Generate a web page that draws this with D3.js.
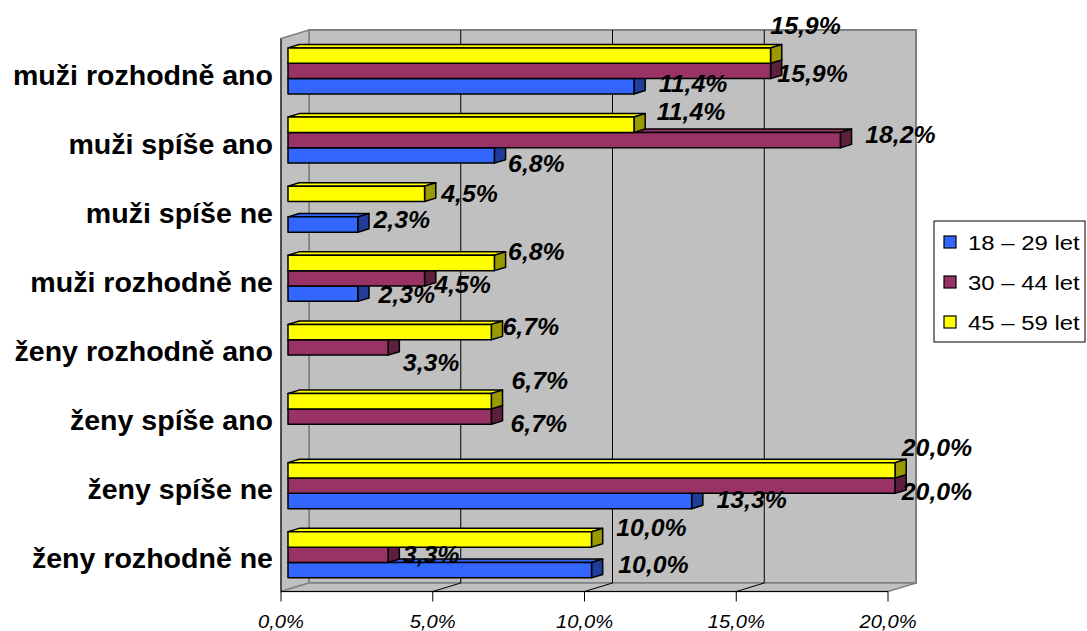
<!doctype html>
<html>
<head>
<meta charset="utf-8">
<style>
  body { margin: 0; background: #fff; }
  text { font-family: Arial, "Liberation Sans", sans-serif; }
</style>
<script src="https://d3js.org/d3.v7.min.js"></script>
</head>
<body>
<svg width="1087" height="631"></svg>
<script>
// categories top to bottom
var categories = ["muži rozhodně ano", "muži spíše ano", "muži spíše ne", "muži rozhodně ne",
                  "ženy rozhodně ano", "ženy spíše ano", "ženy spíše ne", "ženy rozhodně ne"];
var seriesNames = ["18 – 29 let", "30 – 44 let", "45 – 59 let"];
var young  = [11.4, 6.8, 2.3, 2.3, null, null, 13.3, 10.0];
var middle = [15.9, 18.2, null, 4.5, 3.3, 6.7, 20.0, 3.3];
var older  = [15.9, 11.4, 4.5, 6.8, 6.7, 6.7, 20.0, 10.0];
var xTicks = [0, 5, 10, 15, 20];

// label nudges [dx from bar end, dy from bar middle] - excel moves these around
var youngNudge  = [[59,-2.5],[42,8],[44,-5],[49,1.5],null,null,[60,-1],[62,-5.5]];
var middleNudge = [[42,3],[60,-5],null,[38,6],[43,15],[47.5,7.5],[42,6],[43,0]];
var olderNudge  = [[35,-30],[57,-12.7],[45,-0.5],[42,-11],[39.5,-5.5],[48.5,-20],[42,-23],[60,-12]];

var colors = ["#3366ff", "#993366", "#ffff00"];
var sideColors = ["#1f3d99", "#5c1f3d", "#999900"];

var svg = d3.select("svg");

// front plane of the 3d box
var plotLeft = 281, plotRight = 888, plotTop = 38.5, plotBottom = 591.5;
var depthX = 28, depthY = -8.5;          // full depth of the box
var d0 = 0.25, d1 = 0.65;                 // bars sit between these depths

var x = d3.scaleLinear().domain([0, 20]).range([plotLeft, plotRight]);
var y = d3.scaleBand().domain(categories).range([plotTop, plotBottom])
          .paddingInner(1 / 3).paddingOuter(1 / 6);
var sub = d3.scaleBand().domain([2, 1, 0]).range([0, y.bandwidth()]);

function pts(a) { return a.map(function(p) { return p[0] + "," + p[1]; }).join(" "); }

// stretched text helper
function label(g, tx, ty, str, size, weight, style, anchor, sx) {
  return g.append("text")
    .attr("transform", "translate(" + tx + "," + ty + ") scale(" + sx + ",1)")
    .attr("text-anchor", anchor)
    .attr("font-size", size)
    .attr("font-weight", weight)
    .attr("font-style", style)
    .attr("fill", "#000")
    .text(str);
}

// walls
var wall = svg.append("g");
var bx0 = plotLeft + depthX, bx1 = plotRight + depthX, by0 = plotTop + depthY, by1 = plotBottom + depthY;
wall.append("polygon").attr("points", pts([[bx0, by0], [bx1, by0], [bx1, by1], [bx0, by1]]))
    .attr("fill", "#c0c0c0").attr("stroke", "#808080").attr("stroke-width", 2);
wall.append("polygon").attr("points", pts([[plotLeft, plotTop], [bx0, by0], [bx0, by1], [plotLeft, plotBottom]]))
    .attr("fill", "#c0c0c0").attr("stroke", "#808080").attr("stroke-width", 1.5);
wall.append("polygon").attr("points", pts([[plotLeft, plotBottom], [bx0, by1], [bx1, by1], [plotRight, plotBottom]]))
    .attr("fill", "#c0c0c0").attr("stroke", "#808080").attr("stroke-width", 1.5);

// gridlines on the back wall and floor
xTicks.slice(1, -1).forEach(function(t) {
  wall.append("polyline")
    .attr("points", pts([[x(t) + depthX, by0], [x(t) + depthX, by1], [x(t), plotBottom]]))
    .attr("fill", "none").attr("stroke", "#000").attr("stroke-width", 1);
});

// axes
wall.append("line").attr("x1", plotLeft).attr("x2", plotLeft).attr("y1", plotTop).attr("y2", plotBottom)
    .attr("stroke", "#000").attr("stroke-width", 1);
wall.append("line").attr("x1", plotLeft).attr("x2", plotRight).attr("y1", plotBottom).attr("y2", plotBottom)
    .attr("stroke", "#000").attr("stroke-width", 1);
xTicks.forEach(function(t) {
  wall.append("line").attr("x1", x(t)).attr("x2", x(t)).attr("y1", plotBottom).attr("y2", plotBottom + 10)
      .attr("stroke", "#000").attr("stroke-width", 1);
  label(wall, x(t), 628, d3.format(".1f")(t).replace(".", ",") + "%", 19, "normal", "italic", "middle", 1.06);
});

// category labels
categories.forEach(function(c) {
  label(wall, 273, y(c) + y.bandwidth() / 2 + 11.5, c, 28, "bold", "normal", "end", 1.02);
});

// bars
var series = [young, middle, older];
var nudges = [youngNudge, middleNudge, olderNudge];
var ox = depthX * d0, oy = depthY * d0;
var sdx = depthX * (d1 - d0), sdy = depthY * (d1 - d0);
var bars = svg.append("g");

for (var i = categories.length - 1; i >= 0; i--) {
  [0, 1, 2].forEach(function(s) {
    var v = series[s][i];
    if (v == null) return;
    var x0 = x(0) + ox, xe = x(v) + ox;
    var yt = y(categories[i]) + sub(s) + oy, yb = yt + sub.bandwidth();
    var g = bars.append("g").attr("stroke", "#000").attr("stroke-width", 1.5).attr("stroke-linejoin", "round");
    g.append("polygon").attr("points", pts([[x0, yt], [x0 + sdx, yt + sdy], [xe + sdx, yt + sdy], [xe, yt]]))
     .attr("fill", colors[s]);
    g.append("polygon").attr("points", pts([[xe, yt], [xe + sdx, yt + sdy], [xe + sdx, yb + sdy], [xe, yb]]))
     .attr("fill", sideColors[s]);
    g.append("rect").attr("x", x0).attr("y", yt).attr("width", xe - x0).attr("height", yb - yt)
     .attr("fill", colors[s]);
  });
}

// data labels
var labels = svg.append("g");
categories.forEach(function(c, i) {
  [0, 1, 2].forEach(function(s) {
    var v = series[s][i];
    if (v == null) return;
    var n = nudges[s][i];
    var xe = x(v) + ox;
    var ym = y(c) + sub(s) + oy + sub.bandwidth() / 2;
    label(labels, xe + n[0], ym + n[1] + 8.2, d3.format(".1f")(v).replace(".", ",") + "%",
          23, "bold", "italic", "middle", 1.08);
  });
});

// legend
var lg = svg.append("g");
lg.append("rect").attr("x", 934).attr("y", 221).attr("width", 151).attr("height", 121)
  .attr("fill", "#fff").attr("stroke", "#000").attr("stroke-width", 1);
seriesNames.forEach(function(name, k) {
  var cy = 242 + k * 40;
  lg.append("rect").attr("x", 944).attr("y", cy - 6).attr("width", 12).attr("height", 12)
    .attr("fill", colors[k]).attr("stroke", "#000").attr("stroke-width", 1.2);
  label(lg, 968, cy + 7.5, name, 21, "normal", "normal", "start", 1.14);
});
</script>
</body>
</html>
